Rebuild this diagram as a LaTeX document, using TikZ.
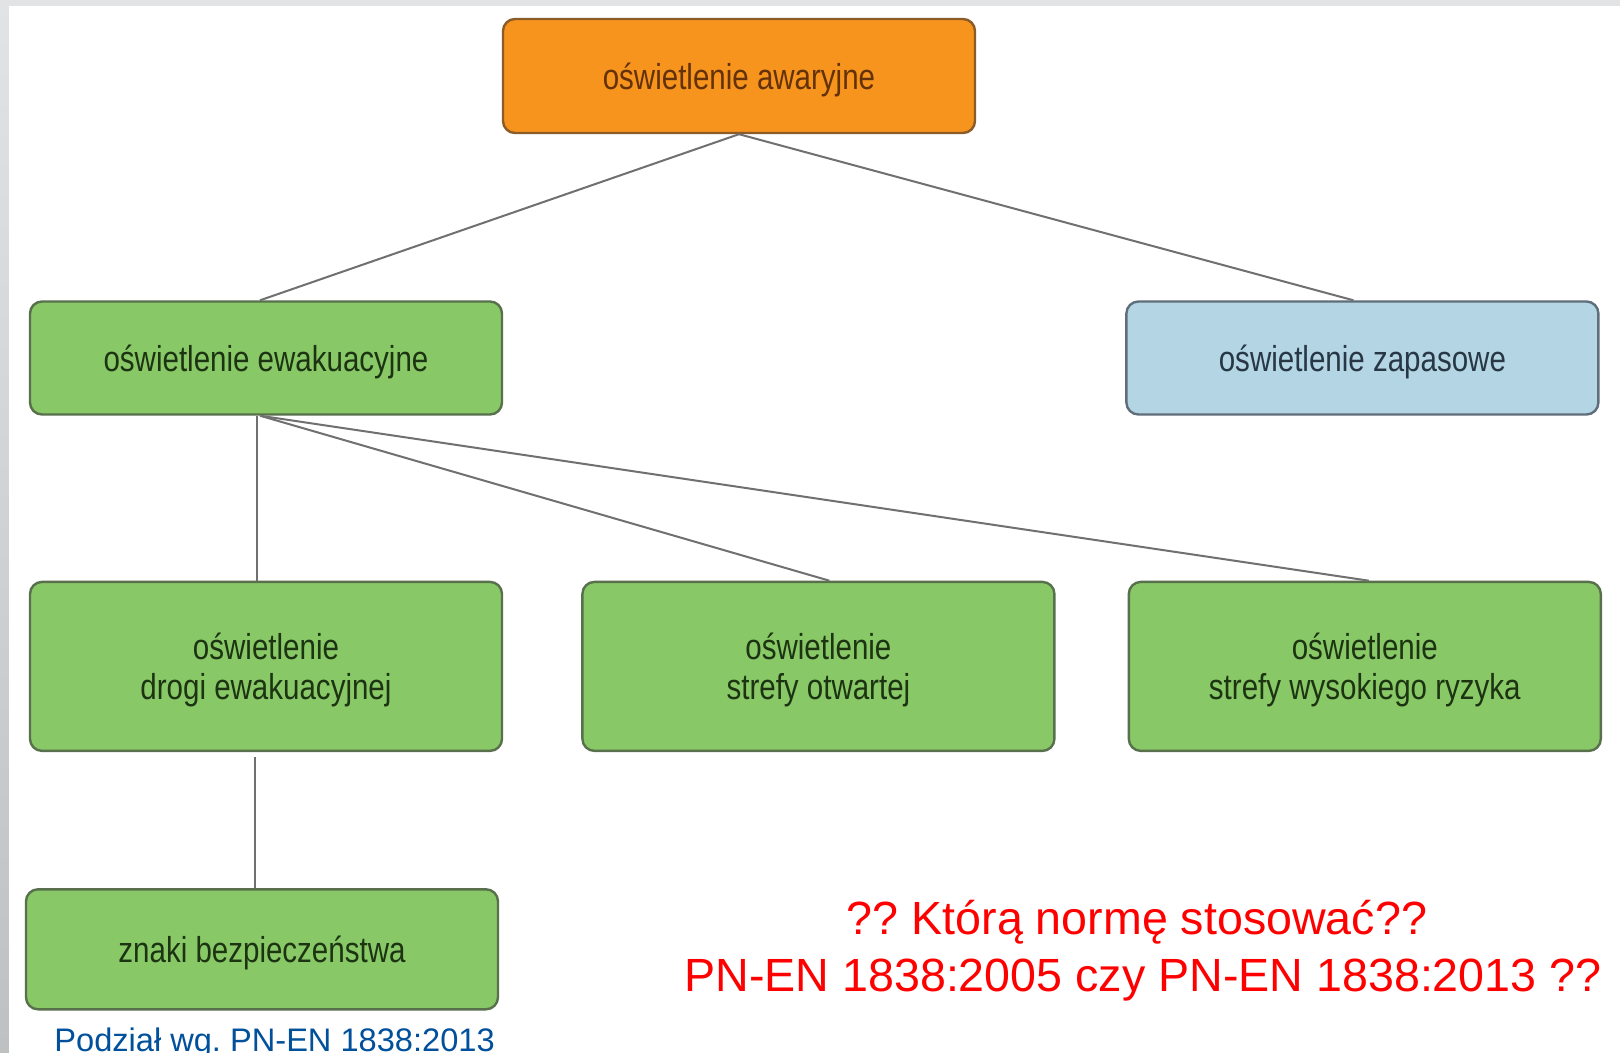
\documentclass[tikz,border=0pt]{standalone}
\usepackage{fontspec}
\setmainfont{Liberation Sans}
\newfontfamily\boxfont[FakeStretch=0.82]{Liberation Sans}
\usepackage{tikz}
\usetikzlibrary{positioning}
\frenchspacing
\definecolor{myorange}{RGB}{247,148,30}
\definecolor{myorangeedge}{RGB}{140,92,40}
\definecolor{mygreen}{RGB}{137,200,103}
\definecolor{mygreenedge}{RGB}{88,112,76}
\definecolor{myblue}{RGB}{180,213,227}
\definecolor{myblueedge}{RGB}{96,110,124}
\definecolor{txtbrown}{RGB}{100,50,8}
\definecolor{txtgreen}{RGB}{28,52,18}
\definecolor{txtslate}{RGB}{40,55,70}
\definecolor{linkgray}{RGB}{112,112,112}
\definecolor{myred}{RGB}{255,0,0}
\definecolor{noteblue}{RGB}{0,80,155}
\definecolor{framegray}{RGB}{226,227,228}
\definecolor{framedark}{RGB}{190,192,194}
\tikzset{
  box/.style={rectangle, rounded corners=6pt, line width=1.2pt,
    minimum width=236pt, minimum height=56.5pt, align=center, text depth=0pt,
    font=\boxfont\fontsize{18pt}{20pt}\selectfont},
  orangebox/.style={box, draw=myorangeedge, fill=myorange, text=txtbrown},
  greenbox/.style={box, draw=mygreenedge, fill=mygreen, text=txtgreen},
  bluebox/.style={box, draw=myblueedge, fill=myblue, text=txtslate},
  tallbox/.style={greenbox, minimum height=84.5pt},
  question/.style={anchor=base, inner sep=0pt, text=myred,
    font=\fontsize{23.3pt}{28pt}\selectfont},
  source/.style={anchor=base west, inner sep=0pt, text=noteblue,
    font=\fontsize{16.3pt}{19pt}\selectfont},
  link/.style={line width=1pt, color=linkgray}
}
\begin{document}
\begin{tikzpicture}[x=0.5pt, y=-0.5pt, node distance=82.5pt and 39pt]
  \useasboundingbox (0,0) rectangle (1620,1053);
  \shade[top color=framegray, bottom color=framedark] (0,0) rectangle (9,1053);
  \fill[framegray] (9,0) rectangle (1620,6);
  \fill[white] (9,6) rectangle (1620,1053);

  \node[orangebox, minimum height=57pt] (awar) at (739,76) {oświetlenie awaryjne};
  \node[greenbox] (ewak) at (266,358) {oświetlenie ewakuacyjne};
  \node[bluebox, right=311pt of ewak] (zapas) {oświetlenie zapasowe};
  \node[tallbox, below=of ewak] (droga) {oświetlenie\\drogi ewakuacyjnej};
  \node[tallbox, right=of droga] (otwarta) {oświetlenie\\strefy otwartej};
  \node[tallbox, right=36pt of otwarta] (ryzyko) {oświetlenie\\strefy wysokiego ryzyka};
  \node[greenbox, minimum height=60pt, below=68pt of droga, xshift=-2pt] (znaki) {znaki bezpieczeństwa};

  \draw[link] (awar.south) -- ([xshift=-3pt]ewak.north);
  \draw[link] (awar.south) -- ([xshift=-4.5pt]zapas.north);
  \draw[link] ([xshift=-3pt]ewak.south) -- ([xshift=5.5pt]otwarta.north);
  \draw[link] ([xshift=-3pt]ewak.south) -- ([xshift=2pt]ryzyko.north);
  \draw[link] ([xshift=-4.5pt]ewak.south) -- ([xshift=-4.5pt]droga.north);
  \draw[link] ([xshift=-5.5pt,yshift=-2.5pt]droga.south) -- ([xshift=-3.5pt]znaki.north);

  \node[question] (ask) at (1137,934) {?? Którą normę stosować??};
  \node[question] (which) at (1143,991) {PN-EN 1838:2005 czy PN-EN 1838:2013 ??};
  \node[source] (src) at (54,1051) {Podział wg. PN-EN 1838:2013};
\end{tikzpicture}
\end{document}
